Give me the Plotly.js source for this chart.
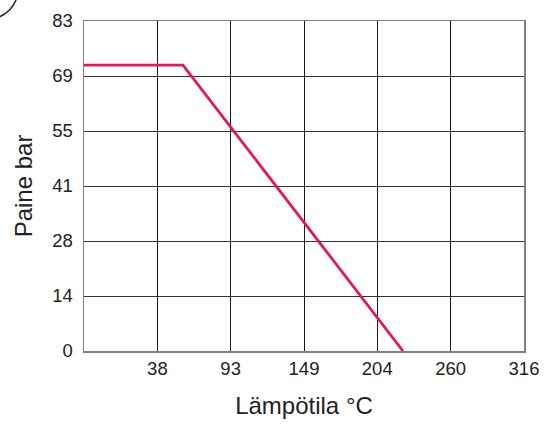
<!DOCTYPE html>
<html><head><meta charset="utf-8">
<script src="https://cdn.plot.ly/plotly-3.0.1.min.js"></script>
<style>html,body{margin:0;padding:0;background:#fff}#c{width:555px;height:425px}</style>
</head><body><div id="c"></div>
<script>
// Temperature (°C) and pressure (bar) of the rating curve
const tempC = [-17.8, 57.2, 223.9];
const pressureBar = [71.7, 71.7, 0];
// Tick positions (°F / psi conversions) and labels
const xTickVals = [37.8, 93.3, 148.9, 204.4, 260, 315.6];
const xTickText = ["38", "93", "149", "204", "260", "316"];
const yTickVals = [0, 13.79, 27.58, 41.37, 55.16, 68.95, 82.74];
const yTickText = ["0", "14", "28", "41", "55", "69", "83"];

const fam = "Liberation Sans, Arial, sans-serif";
Plotly.newPlot("c", [{
  x: tempC, y: pressureBar, mode: "lines", type: "scatter",
  line: {color: "#e3194f", width: 2.8}, hoverinfo: "skip", cliponaxis: false
}], {
  width: 555, height: 425,
  margin: {l: 84, r: 31, t: 21, b: 74},
  paper_bgcolor: "#fff", plot_bgcolor: "#fff",
  showlegend: false,
  font: {family: fam, color: "#222", size: 18},
  xaxis: {
    range: [-17.8, 315.6], tickvals: xTickVals, ticktext: xTickText,
    showgrid: true, gridcolor: "#1a1a1a", gridwidth: 1,
    showline: true, linecolor: "#808080", linewidth: 1.5, mirror: true,
    zeroline: false, ticks: "", tickfont: {family: fam, size: 18.5, color: "#222"},
    ticklabelstandoff: 0,
    title: {text: "Lämpötila °C", font: {family: fam, size: 24, color: "#222"}, standoff: 19}
  },
  yaxis: {
    range: [0, 82.74], tickvals: yTickVals, ticktext: yTickText,
    showgrid: true, gridcolor: "#333", gridwidth: 1,
    showline: true, linecolor: "#808080", linewidth: 1.5, mirror: true,
    zeroline: false, ticks: "", tickfont: {family: fam, size: 18.5, color: "#222"},
    ticklabelstandoff: 6,
    title: {text: "Paine bar", font: {family: fam, size: 24, color: "#222"}, standoff: 13}
  },
  shapes: [{
    type: "circle", xref: "paper", yref: "paper",
    x0: (-42 - 84) / 440, x1: (18 - 84) / 440,
    y0: (350 - 18) / 330, y1: (350 + 42) / 330,
    line: {color: "#222", width: 1.5}
  }]
}, {staticPlot: true});
</script>
</body></html>
